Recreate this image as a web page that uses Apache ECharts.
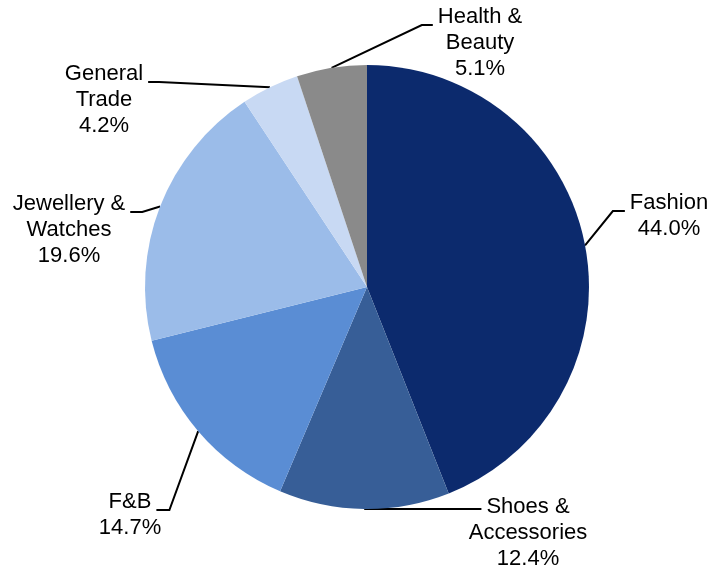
<!DOCTYPE html>
<html>
<head>
<meta charset="utf-8">
<script src="https://cdn.jsdelivr.net/npm/echarts@6/dist/echarts.min.js"></script>
<style>
  html, body { margin: 0; padding: 0; background: #ffffff; }
  #chart { width: 711px; height: 572px; }
</style>
</head>
<body>
<div id="chart"></div>
<script>
// Retail mix by category (share of total, %)
const categories = ['Fashion', 'Shoes &\nAccessories', 'F&B', 'Jewellery &\nWatches', 'General\nTrade', 'Health &\nBeauty'];
const shares = [44.0, 12.4, 14.7, 19.6, 4.2, 5.1];
const sliceColors = ['#0c2a6d', '#375e97', '#5a8dd4', '#9bbce9', '#c8d9f3', '#8a8a8a'];

// Where each label block sits (centre) and how its leader line bends
const labelSpots = [
  { x: 669, y: 216, side: 'right', elbow: 12 },
  { x: 528, y: 533, side: 'right', flat: true },
  { x: 130, y: 515, side: 'left', elbow: 13 },
  { x: 69,  y: 230, side: 'left', elbow: 12 },
  { x: 104, y: 100, side: 'left', elbow: 11 },
  { x: 480, y: 43,  side: 'right', elbow: 11 }
];

const FONT_SIZE = 22;
const LINE_H = 26;
const FONT_FAMILY = '"Liberation Sans", Arial, sans-serif';
const GAP = 5;

const measureCtx = document.createElement('canvas').getContext('2d');
measureCtx.font = FONT_SIZE + 'px ' + FONT_FAMILY;
function firstLineWidth(name) {
  return measureCtx.measureText(name.split('\n')[0]).width;
}

const chart = echarts.init(document.getElementById('chart'), null, { renderer: 'canvas' });

chart.setOption({
  animation: false,
  backgroundColor: '#ffffff',
  series: [{
    type: 'pie',
    center: [367, 287],
    radius: 222,
    startAngle: 90,
    clockwise: true,
    avoidLabelOverlap: false,
    silent: true,
    data: categories.map((name, i) => ({
      name: name,
      value: shares[i],
      itemStyle: { color: sliceColors[i] }
    })),
    label: {
      show: true,
      position: 'outside',
      formatter: p => p.name + '\n' + p.value.toFixed(1) + '%',
      fontFamily: FONT_FAMILY,
      fontSize: FONT_SIZE,
      lineHeight: LINE_H,
      color: '#000000',
      align: 'center'
    },
    labelLine: {
      show: true,
      length: 10,
      length2: 10,
      smooth: false,
      lineStyle: { color: '#000000', width: 2 }
    },
    labelLayout: function (params) {
      const spot = labelSpots[params.dataIndex];
      const name = categories[params.dataIndex];
      const nLines = name.split('\n').length + 1;
      const top = spot.y - nLines * LINE_H / 2;
      const start = params.labelLinePoints[0];
      const half = firstLineWidth(name) / 2;
      const lineY = spot.flat ? start[1] : top + 21;
      let endX, elbowX;
      if (spot.side === 'right') {
        endX = spot.x - half - GAP;
        elbowX = spot.flat ? (start[0] + endX) / 2 : endX - spot.elbow;
      } else {
        endX = spot.x + half + GAP;
        elbowX = spot.flat ? (start[0] + endX) / 2 : endX + spot.elbow;
      }
      return {
        x: spot.x,
        y: spot.y,
        align: 'center',
        verticalAlign: 'middle',
        labelLinePoints: [start, [elbowX, lineY], [endX, lineY]]
      };
    },
    emphasis: { disabled: true }
  }]
});
</script>
</body>
</html>
